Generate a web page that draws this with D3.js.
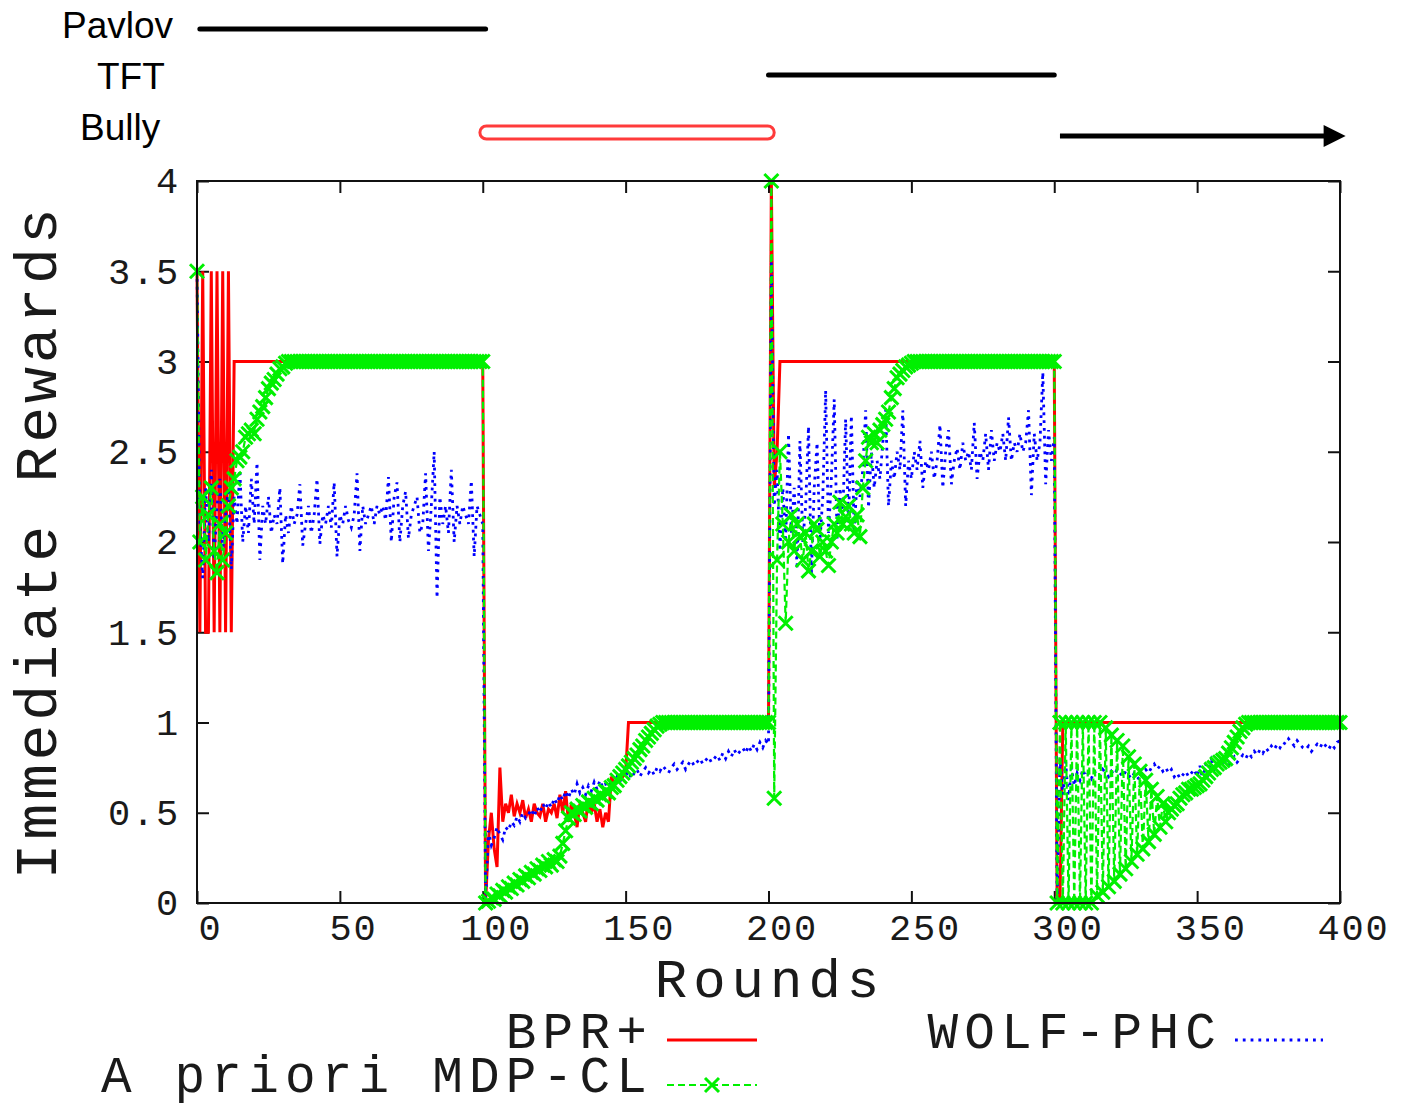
<!DOCTYPE html>
<html>
<head>
<meta charset="utf-8">
<script src="https://cdn.jsdelivr.net/npm/d3@7"></script>
<style>
  html, body { margin: 0; padding: 0; background: #fff; }
  svg { display: block; }
</style>
</head>
<body>
<svg id="chart" width="1404" height="1105"></svg>
<script>
// Immediate reward per round for each agent (rounds 0..400)
const bprPlus = [
  3.5,1.5,3.5,1.5,1.5,3.5,1.5,3.5,1.5,3.5,1.5,3.5,1.5,3,3,3,3,3,3,3,
  3,3,3,3,3,3,3,3,3,3,3,3,3,3,3,3,3,3,3,3,
  3,3,3,3,3,3,3,3,3,3,3,3,3,3,3,3,3,3,3,3,
  3,3,3,3,3,3,3,3,3,3,3,3,3,3,3,3,3,3,3,3,
  3,3,3,3,3,3,3,3,3,3,3,3,3,3,3,3,3,3,3,3,
  3,0,0.35,0.5,0.3,0.2,0.75,0.45,0.55,0.5,0.6,0.48,0.55,0.5,0.57,0.47,0.52,0.45,0.55,0.5,
  0.48,0.55,0.45,0.52,0.5,0.55,0.47,0.6,0.5,0.62,0.45,0.55,0.5,0.42,0.55,0.5,0.45,0.58,0.5,0.55,
  0.45,0.52,0.42,0.5,0.45,0.7,0.66,0.68,0.7,0.7,0.72,1,1,1,1,1,1,1,1,1,
  1,1,1,1,1,1,1,1,1,1,1,1,1,1,1,1,1,1,1,1,
  1,1,1,1,1,1,1,1,1,1,1,1,1,1,1,1,1,1,1,1,
  1,4,2.3,2.5,3,3,3,3,3,3,3,3,3,3,3,3,3,3,3,3,
  3,3,3,3,3,3,3,3,3,3,3,3,3,3,3,3,3,3,3,3,
  3,3,3,3,3,3,3,3,3,3,3,3,3,3,3,3,3,3,3,3,
  3,3,3,3,3,3,3,3,3,3,3,3,3,3,3,3,3,3,3,3,
  3,3,3,3,3,3,3,3,3,3,3,3,3,3,3,3,3,3,3,3,
  3,0,0,1,1,1,1,1,1,1,1,1,1,1,1,1,1,1,1,1,
  1,1,1,1,1,1,1,1,1,1,1,1,1,1,1,1,1,1,1,1,
  1,1,1,1,1,1,1,1,1,1,1,1,1,1,1,1,1,1,1,1,
  1,1,1,1,1,1,1,1,1,1,1,1,1,1,1,1,1,1,1,1,
  1,1,1,1,1,1,1,1,1,1,1,1,1,1,1,1,1,1,1,1,
  1
];

const wolfPhc = [
  3.5,2.1,1.8,2.3,2.0,2.4,1.9,2.2,2.35,1.95,2.15,2.3,1.85,2.25,2.1,2.4,2.0,2.2,2.05,2.35,
  2.1,2.44,1.9,2.2,2.1,2.25,2.05,2.15,2.1,2.3,1.88,2.15,2.05,2.2,2.1,2.15,2.32,1.98,2.1,2.2,
  2.05,2.15,2.35,1.99,2.15,2.1,2.2,2.08,2.33,1.92,2.15,2.1,2.2,2.12,2.08,2.15,2.38,1.95,2.2,2.1,
  2.15,2.2,2.1,2.2,2.15,2.2,2.12,2.36,2.0,2.25,2.33,2.0,2.2,2.28,2.02,2.15,2.2,2.25,2.05,2.1,
  2.38,1.95,2.2,2.5,1.69,2.25,2.1,2.2,2.05,2.4,2.0,2.2,2.1,2.2,2.15,2.1,2.34,1.92,2.2,2.15,
  2.1,0,0.4,0.32,0.36,0.42,0.38,0.35,0.42,0.4,0.45,0.43,0.48,0.45,0.5,0.47,0.49,0.52,0.48,0.53,
  0.5,0.55,0.52,0.56,0.53,0.58,0.55,0.6,0.57,0.62,0.58,0.63,0.6,0.66,0.61,0.64,0.6,0.65,0.62,0.67,
  0.63,0.68,0.64,0.66,0.62,0.68,0.66,0.7,0.67,0.72,0.7,0.73,0.69,0.72,0.74,0.7,0.73,0.75,0.72,0.74,
  0.71,0.75,0.73,0.76,0.74,0.72,0.75,0.77,0.74,0.76,0.78,0.74,0.77,0.79,0.76,0.78,0.8,0.77,0.79,0.81,
  0.78,0.8,0.82,0.79,0.83,0.8,0.84,0.81,0.85,0.82,0.84,0.86,0.83,0.87,0.84,0.88,0.85,0.89,0.86,0.9,
  0.88,3.55,2.2,2.4,1.95,2.3,2.0,2.6,2.05,2.3,1.85,2.56,2.0,2.2,2.64,1.82,2.3,2.55,2.0,2.25,
  2.84,2.05,2.35,2.79,2.02,2.3,2.15,2.68,2.1,2.7,2.05,2.35,2.25,2.4,2.73,2.19,2.5,2.3,2.45,2.35,
  2.55,2.73,2.2,2.45,2.35,2.5,2.4,2.73,2.2,2.45,2.35,2.5,2.4,2.56,2.3,2.45,2.4,2.5,2.35,2.45,
  2.65,2.3,2.5,2.62,2.32,2.45,2.52,2.4,2.55,2.45,2.5,2.4,2.66,2.35,2.5,2.45,2.6,2.4,2.62,2.45,
  2.55,2.5,2.6,2.45,2.69,2.45,2.55,2.5,2.6,2.5,2.55,2.73,2.26,2.6,2.45,2.55,2.94,2.32,2.62,2.45,
  2.58,0,0.8,0.6,0.78,0.57,0.75,0.65,0.72,0.68,0.74,0.7,0.72,0.69,0.73,0.71,0.7,0.74,0.72,0.7,
  0.73,0.71,0.74,0.72,0.7,0.73,0.71,0.69,0.72,0.7,0.68,0.71,0.74,0.72,0.75,0.77,0.74,0.76,0.73,0.75,
  0.72,0.74,0.7,0.72,0.69,0.71,0.73,0.7,0.72,0.74,0.7,0.76,0.68,0.77,0.72,0.79,0.74,0.77,0.75,0.78,
  0.8,0.76,0.79,0.81,0.78,0.8,0.82,0.8,0.83,0.81,0.84,0.82,0.85,0.83,0.86,0.84,0.87,0.85,0.88,0.86,
  0.89,0.88,0.91,0.89,0.87,0.9,0.88,0.86,0.85,0.87,0.84,0.86,0.88,0.86,0.89,0.87,0.85,0.88,0.86,0.89,
  0.9
];

const mdpCl = [
  3.5,2.0,2.25,1.9,2.15,2.3,1.95,1.83,2.1,1.9,2.05,2.2,2.3,2.35,2.45,2.47,2.5,2.58,2.6,2.62,
  2.6,2.68,2.72,2.75,2.8,2.85,2.88,2.9,2.93,2.96,2.97,2.99,3,3,3,3,3,3,3,3,
  3,3,3,3,3,3,3,3,3,3,3,3,3,3,3,3,3,3,3,3,
  3,3,3,3,3,3,3,3,3,3,3,3,3,3,3,3,3,3,3,3,
  3,3,3,3,3,3,3,3,3,3,3,3,3,3,3,3,3,3,3,3,
  3,0,0.01,0.03,0.02,0.05,0.04,0.07,0.06,0.09,0.08,0.11,0.1,0.13,0.12,0.15,0.14,0.17,0.16,0.19,
  0.18,0.21,0.2,0.23,0.21,0.24,0.23,0.26,0.33,0.4,0.47,0.5,0.49,0.52,0.51,0.54,0.53,0.56,0.55,0.58,
  0.57,0.6,0.59,0.62,0.61,0.64,0.65,0.68,0.7,0.72,0.74,0.76,0.78,0.8,0.82,0.85,0.87,0.9,0.92,0.94,
  0.96,0.98,0.99,1,1,1,1,1,1,1,1,1,1,1,1,1,1,1,1,1,
  1,1,1,1,1,1,1,1,1,1,1,1,1,1,1,1,1,1,1,1,
  1,4,0.58,1.9,2.5,2.1,1.55,2.0,2.15,1.95,2.1,2.03,1.9,2.05,1.84,1.95,2.1,2.07,1.92,2.0,
  1.95,1.87,2.0,2.1,2.05,2.22,2.1,2.14,2.2,2.1,2.05,2.15,2.03,2.3,2.45,2.58,2.55,2.6,2.55,2.62,
  2.65,2.68,2.72,2.8,2.85,2.91,2.93,2.95,2.97,2.98,2.99,3,3,3,3,3,3,3,3,3,
  3,3,3,3,3,3,3,3,3,3,3,3,3,3,3,3,3,3,3,3,
  3,3,3,3,3,3,3,3,3,3,3,3,3,3,3,3,3,3,3,3,
  3,0,1,0,1,0,1,0,1,0,1,0,1,0,1,0.04,1,0.06,0.97,0.09,
  0.93,0.12,0.9,0.16,0.87,0.19,0.81,0.23,0.77,0.27,0.73,0.3,0.68,0.34,0.63,0.38,0.59,0.42,0.55,0.45,
  0.5,0.52,0.54,0.55,0.58,0.6,0.61,0.63,0.63,0.64,0.65,0.66,0.68,0.7,0.72,0.74,0.75,0.77,0.78,0.79,
  0.8,0.83,0.86,0.89,0.92,0.95,0.97,0.99,1,1,1,1,1,1,1,1,1,1,1,1,
  1,1,1,1,1,1,1,1,1,1,1,1,1,1,1,1,1,1,1,1,
  1
];

// Axis ticks
const xTicks = [0, 50, 100, 150, 200, 250, 300, 350, 400];
const xTickLabels = ["0", "50", "100", "150", "200", "250", "300", "350", "400"];
const yTicks = [0, 0.5, 1, 1.5, 2, 2.5, 3, 3.5, 4];
const yTickLabels = ["0", "0.5", "1", "1.5", "2", "2.5", "3", "3.5", "4"];

// Opponent strategy in force over each stretch of rounds
const opponentNames = ["Pavlov", "TFT", "Bully"];
const opponentPhases = [
  { name: "Pavlov", from: 1, to: 101 },
  { name: "Bully",  from: 99, to: 202 },
  { name: "TFT",    from: 200, to: 300 },
  { name: "Bully",  from: 302, to: 400 }
];

const seriesNames = ["BPR+", "WOLF-PHC", "A priori MDP-CL"];

const svg = d3.select("#chart");
svg.append("rect").attr("width", 1404).attr("height", 1105).attr("fill", "#fff");

const x = d3.scaleLinear().domain([0, 400]).range([197, 1340]);
const y = d3.scaleLinear().domain([0, 4]).range([903, 181]);

const mono = "'Liberation Mono', 'DejaVu Sans Mono', monospace";
const sans = "'Liberation Sans', Arial, sans-serif";
const textColor = "#1a1a1a";
const green = "#00f000";

// ---- axes (inward ticks, mirrored on top and right) ----
const axB = svg.append("g").attr("transform", `translate(0,${y(0)})`)
  .call(d3.axisBottom(x).tickValues(xTicks).tickSize(-12).tickPadding(11)
    .tickFormat((d, i) => xTickLabels[i]));
const axT = svg.append("g").attr("transform", `translate(0,${y(4)})`)
  .call(d3.axisTop(x).tickValues(xTicks).tickSize(-12).tickFormat(""));
const axL = svg.append("g").attr("transform", `translate(${x(0)},0)`)
  .call(d3.axisLeft(y).tickValues(yTicks).tickSize(-12).tickPadding(17)
    .tickFormat((d, i) => yTickLabels[i]));
const axR = svg.append("g").attr("transform", `translate(${x(400)},0)`)
  .call(d3.axisRight(y).tickValues(yTicks).tickSize(-12).tickFormat(""));

[axB, axT, axL, axR].forEach(g => {
  g.select(".domain").remove();
  g.selectAll(".tick line").attr("stroke", "#111").attr("stroke-width", 2);
  g.selectAll("text").attr("font-family", mono).attr("font-size", 37)
    .attr("letter-spacing", 1.8).attr("fill", textColor);
});
axB.selectAll("text").attr("dx", 13);

// ---- series ----
const rounds = d3.range(bprPlus.length);
const line = d3.line().x((d, i) => x(rounds[i])).y(d => y(d));

svg.append("path").datum(bprPlus)
  .attr("d", line).attr("fill", "none")
  .attr("stroke", "#ff0000").attr("stroke-width", 3).attr("stroke-linejoin", "miter");

svg.append("path").datum(wolfPhc)
  .attr("d", line).attr("fill", "none")
  .attr("stroke", "#0000ff").attr("stroke-width", 2.8)
  .attr("stroke-dasharray", "2.8 5");

svg.append("path").datum(mdpCl)
  .attr("d", line).attr("fill", "none")
  .attr("stroke", green).attr("stroke-width", 2.2)
  .attr("stroke-dasharray", "7 4");

const cross = "M-7,-7L7,7M-7,7L7,-7";
svg.append("g").selectAll("path").data(mdpCl).join("path")
  .attr("transform", (d, i) => `translate(${x(rounds[i])},${y(d)})`)
  .attr("d", cross).attr("fill", "none")
  .attr("stroke", green).attr("stroke-width", 3);

// ---- frame ----
svg.append("rect")
  .attr("x", x(0)).attr("y", y(4))
  .attr("width", x(400) - x(0)).attr("height", y(0) - y(4))
  .attr("fill", "none").attr("stroke", "#111").attr("stroke-width", 2);

// ---- axis titles ----
svg.append("text")
  .attr("transform", `translate(56,${(y(0) + y(4)) / 2}) rotate(-90)`)
  .attr("text-anchor", "middle")
  .attr("font-family", mono).attr("font-size", 60).attr("letter-spacing", 3.7)
  .attr("fill", textColor)
  .text("Immediate Rewards");

svg.append("text")
  .attr("x", 770).attr("y", 997)
  .attr("text-anchor", "middle")
  .attr("font-family", mono).attr("font-size", 54).attr("letter-spacing", 6)
  .attr("fill", textColor)
  .text("Rounds");

// ---- legend ----
const legendFont = { size: 51, spacing: 6.2 };
const legend = svg.append("g");
function legendText(tx, ty, label) {
  legend.append("text").attr("x", tx).attr("y", ty).attr("text-anchor", "end")
    .attr("font-family", mono).attr("font-size", legendFont.size)
    .attr("letter-spacing", legendFont.spacing).attr("fill", textColor).text(label);
}
legendText(653, 1048, seriesNames[0]);
legend.append("line").attr("x1", 667).attr("x2", 757).attr("y1", 1040).attr("y2", 1040)
  .attr("stroke", "#ff0000").attr("stroke-width", 3);

legendText(1222, 1048, seriesNames[1]);
legend.append("line").attr("x1", 1235).attr("x2", 1323).attr("y1", 1040).attr("y2", 1040)
  .attr("stroke", "#0000ff").attr("stroke-width", 2.8).attr("stroke-dasharray", "2.8 5");

legendText(653, 1092, seriesNames[2]);
legend.append("line").attr("x1", 667).attr("x2", 757).attr("y1", 1085).attr("y2", 1085)
  .attr("stroke", green).attr("stroke-width", 2.2).attr("stroke-dasharray", "7 4");
legend.append("path").attr("transform", "translate(712,1085)")
  .attr("d", cross).attr("fill", "none").attr("stroke", green).attr("stroke-width", 3);

// ---- opponent timeline above the plot ----
const rowY = { Pavlov: 29, TFT: 75, Bully: 133 };
const labelPos = { Pavlov: [62, 38], TFT: [97, 89], Bully: [80, 140] };
opponentNames.forEach(n => {
  svg.append("text").attr("x", labelPos[n][0]).attr("y", labelPos[n][1])
    .attr("font-family", sans).attr("font-size", 37).attr("fill", "#000")
    .attr("textLength", n === "Pavlov" ? 111 : null)
    .text(n);
});

const defs = svg.append("defs");
defs.append("marker").attr("id", "arrowHead")
  .attr("viewBox", "0 0 10 10").attr("refX", 2).attr("refY", 5)
  .attr("markerWidth", 6).attr("markerHeight", 4.4).attr("orient", "auto")
  .attr("markerUnits", "strokeWidth")
  .append("path").attr("d", "M0,0L10,5L0,10Z").attr("fill", "#000");

opponentPhases.forEach((p, i) => {
  const x1 = x(p.from), x2 = x(p.to);
  if (p.name === "Bully" && i === 1) {
    svg.append("rect").attr("x", x1).attr("y", rowY.Bully - 7)
      .attr("width", x2 - x1).attr("height", 13).attr("rx", 6.5)
      .attr("fill", "#fff").attr("stroke", "#ff3b3b").attr("stroke-width", 3);
  } else if (p.name === "Bully") {
    svg.append("line").attr("x1", x1).attr("x2", x2 - 12)
      .attr("y1", rowY.Bully + 3).attr("y2", rowY.Bully + 3)
      .attr("stroke", "#000").attr("stroke-width", 5)
      .attr("marker-end", "url(#arrowHead)");
  } else {
    svg.append("line").attr("x1", x1).attr("x2", x2)
      .attr("y1", rowY[p.name]).attr("y2", rowY[p.name])
      .attr("stroke", "#000").attr("stroke-width", 5).attr("stroke-linecap", "round");
  }
});
</script>
</body>
</html>
